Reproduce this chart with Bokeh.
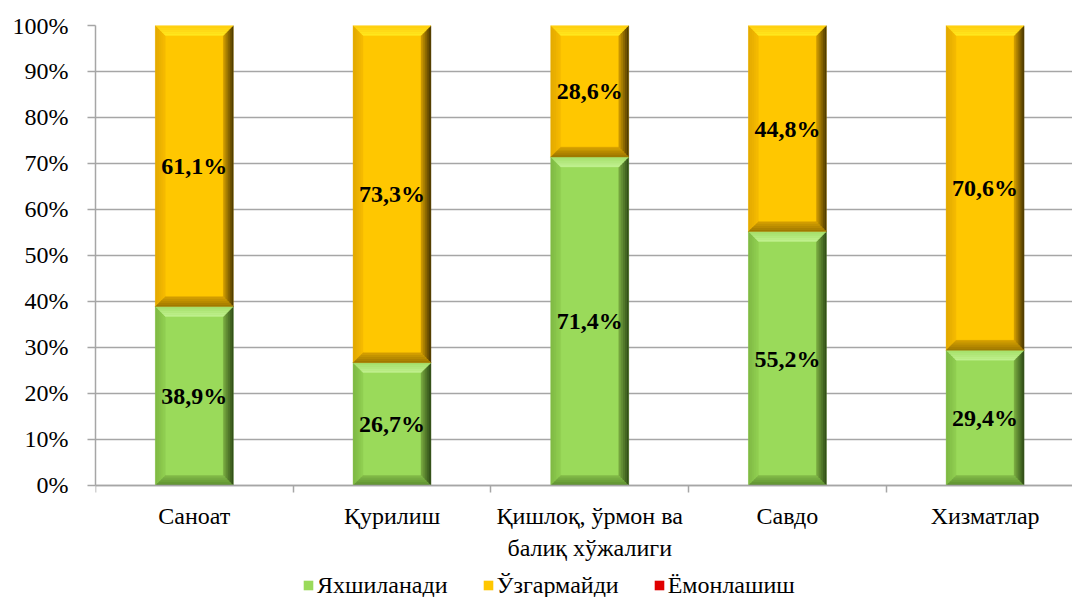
from bokeh.plotting import figure
from bokeh.models import Range1d, FixedTicker, PrintfTickFormatter, Legend, LegendItem
from bokeh.embed import file_html
from bokeh.resources import INLINE
from bokeh.core.properties import value

# ---- data ----
categories = ["Саноат", "Қурилиш", "Қишлоқ, ўрмон ва\nбалиқ хўжалиги", "Савдо", "Хизматлар"]
improves = [38.9, 26.7, 71.4, 55.2, 29.4]
unchanged = [61.1, 73.3, 28.6, 44.8, 70.6]
worsens = [0.0, 0.0, 0.0, 0.0, 0.0]
series_names = ["Яхшиланади", "Ўзгармайди", "Ёмонлашиш"]
y_ticks = [0, 10, 20, 30, 40, 50, 60, 70, 80, 90, 100]

FONT = "Liberation Serif"
GRID = "#A6A6A6"

# bevel colours: (inner, outer) per side
palettes = [
    dict(main="#9ADA5A", top=("#C2F292", "#A6E06C"), left=("#92D052", "#7EB844"),
         right=("#7CAE42", "#2C4816"), bottom=("#84BC4A", "#5A8A2E")),
    dict(main="#FFC700", top=("#FFEA20", "#FFCF10"), left=("#F7BC00", "#E2A800"),
         right=("#D6A000", "#463400"), bottom=("#D8A200", "#9A7400")),
    dict(main="#E00000", top=("#FF5050", "#F02020"), left=("#D00000", "#B80000"),
         right=("#B00000", "#480000"), bottom=("#A00000", "#700000")),
]


def mix(c1, c2, f):
    a = [int(c1[j:j + 2], 16) for j in (1, 3, 5)]
    bb = [int(c2[j:j + 2], 16) for j in (1, 3, 5)]
    return "#" + "".join(f"{int(round(a[j] + (bb[j] - a[j]) * f)):02X}" for j in range(3))


n = len(categories)
centers = [i + 0.5 for i in range(n)]
half_w = 0.197

p = figure(width=1072, height=597,
           x_range=Range1d(0, 4.942), y_range=Range1d(-24.35, 100),
           output_backend="svg", toolbar_location=None,
           min_border_left=95, min_border_right=0, min_border_top=25, min_border_bottom=0,
           outline_line_color=None, background_fill_color="white", border_fill_color="white")

series = [improves, unchanged, worsens]
bottoms = [0.0] * n
renderers = []
label_x, label_y, label_t = [], [], []
bev_xs, bev_ys, bev_c = [], [], []

dx = 0.050   # bevel width (x data units)
dy = 2.15    # bevel height (y data units)
steps = 5

for s_idx, vals in enumerate(series):
    pal = palettes[s_idx]
    lefts = [c - half_w for c in centers]
    rights = [c + half_w for c in centers]
    tops = [b + v for b, v in zip(bottoms, vals)]
    r = p.quad(left=lefts, right=rights, bottom=list(bottoms), top=tops,
               fill_color=pal["main"], line_color=None)
    renderers.append(r)
    for i in range(n):
        v = vals[i]
        if v <= 0:
            continue
        b, t = bottoms[i], tops[i]
        L, R = lefts[i], rights[i]
        label_x.append(centers[i])
        label_y.append((b + t) / 2)
        label_t.append(f"{v:.1f}%".replace(".", ","))
        for k in range(steps):
            u0, u1 = k / steps, (k + 1) / steps
            f = (k + 0.5) / steps
            xl0, xl1 = L + dx - u0 * dx, L + dx - u1 * dx
            xr0, xr1 = R - dx + u0 * dx, R - dx + u1 * dx
            yt0, yt1 = t - dy + u0 * dy, t - dy + u1 * dy
            yb0, yb1 = b + dy - u0 * dy, b + dy - u1 * dy
            bev_xs.append([xl0, xl0, xl1, xl1]); bev_ys.append([yb0, yt0, yt1, yb1])
            bev_c.append(mix(*pal["left"], f))
            bev_xs.append([xr0, xr0, xr1, xr1]); bev_ys.append([yb0, yt0, yt1, yb1])
            bev_c.append(mix(*pal["right"], f))
            bev_xs.append([xl0, xr0, xr1, xl1]); bev_ys.append([yt0, yt0, yt1, yt1])
            bev_c.append(mix(*pal["top"], f))
            bev_xs.append([xl0, xr0, xr1, xl1]); bev_ys.append([yb0, yb0, yb1, yb1])
            bev_c.append(mix(*pal["bottom"], f))
    bottoms = tops

p.patches(xs=bev_xs, ys=bev_ys, fill_color=bev_c, line_color=bev_c, line_width=0.4)

p.text(x=label_x, y=label_y, text=label_t, text_font=value(FONT), text_font_style="bold",
       text_font_size="24px", text_align="center", text_baseline="middle", text_color="black")

# grid
p.xgrid.visible = False
p.ygrid.ticker = FixedTicker(ticks=y_ticks)
p.ygrid.grid_line_color = GRID
p.ygrid.grid_line_width = 1.5

# y axis
yax = p.yaxis[0]
yax.ticker = FixedTicker(ticks=y_ticks)
yax.bounds = (0, 100)
yax.formatter = PrintfTickFormatter(format="%d%%")
yax.axis_line_color = GRID
yax.axis_line_width = 1.5
yax.major_tick_line_color = GRID
yax.major_tick_line_width = 1.5
yax.major_tick_out = 8
yax.major_tick_in = 0
yax.minor_tick_line_color = None
yax.major_label_text_font = FONT
yax.major_label_text_font_size = "24px"
yax.major_label_text_color = "black"
yax.major_label_standoff = 19

# x axis, placed at the 0% line
xax = p.xaxis[0]
xax.fixed_location = 0
xax.ticker = FixedTicker(ticks=centers, minor_ticks=list(range(n + 1)))
xax.major_label_overrides = {c: lab for c, lab in zip(centers, categories)}
xax.axis_line_color = GRID
xax.axis_line_width = 1.5
xax.major_tick_line_color = None
xax.major_tick_out = 0
xax.major_tick_in = 0
xax.minor_tick_line_color = GRID
xax.minor_tick_line_width = 1.5
xax.minor_tick_out = 7
xax.minor_tick_in = 0
xax.major_label_text_font = FONT
xax.major_label_text_font_size = "24px"
xax.major_label_text_color = "black"
xax.major_label_standoff = 11

legend = Legend(items=[LegendItem(label=nm, renderers=[r]) for nm, r in zip(series_names, renderers)],
                orientation="horizontal", location=(207, -2),
                border_line_color=None, background_fill_alpha=0,
                label_text_font=FONT, label_text_font_size="24px", label_text_color="black",
                glyph_width=12, glyph_height=12, label_standoff=3, spacing=34,
                label_height=28, padding=0, margin=0)
p.add_layout(legend, "center")

open("out.html", "w").write(file_html(p, INLINE))
